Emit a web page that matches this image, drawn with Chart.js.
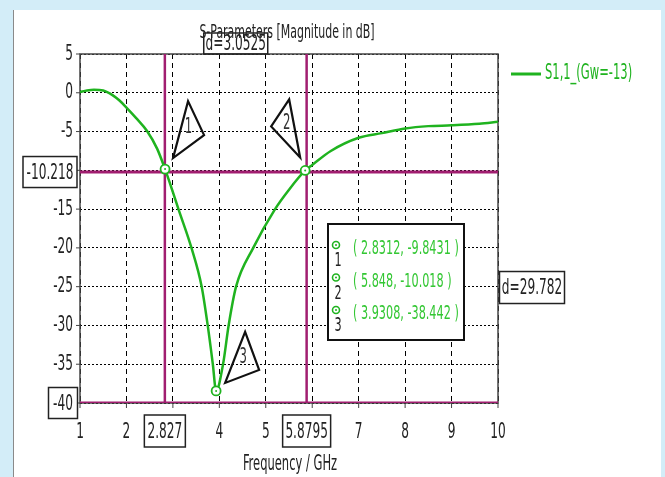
<!DOCTYPE html>
<html>
<head>
<meta charset="utf-8">
<script src="https://cdn.jsdelivr.net/npm/chart.js@4.4.1/dist/chart.umd.min.js"></script>
<style>
  body { margin: 0; width: 665px; height: 477px; overflow: hidden; background: #d3edf8; }
  #panel { position: absolute; left: 13px; top: 10px; width: 647px; height: 467px; background: #fff; border-left: 1px solid #8a8a8a; }
  #c { position: absolute; left: 0; top: 0; }
</style>
</head>
<body>
<div id="panel"></div>
<canvas id="c" width="665" height="477"></canvas>
<script>
// S11 curve (GHz, dB)
const freq = [1.0, 1.15, 1.3, 1.5, 1.7, 1.85, 2.0, 2.2, 2.44, 2.66, 2.8312, 3.0, 3.12, 3.4, 3.62, 3.75, 3.86, 3.9308,
              4.08, 4.2, 4.36, 4.73, 5.2, 5.5, 5.848, 6.0, 6.4, 7.0, 7.5, 8.0, 8.5, 9.0, 9.6, 10.0];
const s11  = [0.1, 0.3, 0.4, 0.3, -0.3, -1.0, -1.9, -3.2, -4.9, -7.2, -9.8431, -12.8, -15, -20, -25, -30, -35, -38.442,
              -35, -30, -25, -20, -15, -12.5, -10.018, -9.3, -7.5, -5.8, -5.2, -4.6, -4.3, -4.2, -4.0, -3.75];

// curve markers
const markerFreq = [2.8312, 5.848, 3.9308];
const markerDb   = [-9.8431, -10.018, -38.442];

// marker lines
const lineX = [2.827, 5.8795];
const lineY = [-10.218, -40];

const xTicks = [1, 2, 3, 4, 5, 6, 7, 8, 9, 10];
const yTicks = [5, 0, -5, -10, -15, -20, -25, -30, -35, -40];

const seriesName = 'S1,1_(Gw=-13)';
const GREEN = '#1fb31f';
const LIGHTGREEN = '#33c733';
const MAGENTA = '#a11e70';
const FONT = '"DejaVu Sans Condensed", sans-serif';

// the reference text is tall and narrow, so stretch it vertically
function txt(ctx, s, x, y, size, color, align) {
    ctx.save();
    ctx.translate(x, y);
    ctx.scale(1, 1.6);
    ctx.font = size + 'px ' + FONT;
    ctx.fillStyle = color;
    ctx.textAlign = align || 'center';
    ctx.textBaseline = 'middle';
    ctx.fillText(s, 0, 0);
    ctx.restore();
}

function boxTxt(ctx, s, cx, cy, w, h, fill) {
    if (fill) {
        ctx.fillStyle = '#fff';
        ctx.fillRect(cx - w / 2, cy - h / 2, w, h);
    }
    ctx.strokeStyle = '#222';
    ctx.lineWidth = 1.5;
    ctx.strokeRect(cx - w / 2, cy - h / 2, w, h);
    txt(ctx, s, cx, cy + 1, 13.5, '#222');
}

function fmt(v) { return String(+v.toFixed(4)); }

const extras = {
    id: 'extras',
    beforeDatasetsDraw(chart) {
        const ctx = chart.ctx, a = chart.chartArea;
        ctx.save();
        ctx.strokeStyle = '#444';
        ctx.lineWidth = 1.5;
        ctx.strokeRect(a.left, a.top, a.right - a.left, a.bottom - a.top);
        ctx.restore();
    },
    afterDraw(chart) {
        const ctx = chart.ctx, a = chart.chartArea;
        const xs = chart.scales.x, ys = chart.scales.y;

        // tick marks + labels
        ctx.strokeStyle = '#444';
        ctx.lineWidth = 1;
        xTicks.forEach(v => {
            const px = xs.getPixelForValue(v);
            ctx.beginPath(); ctx.moveTo(px, a.bottom); ctx.lineTo(px, a.bottom + 5); ctx.stroke();
            if (lineX.some(m => Math.abs(m - v) < 0.5)) return;
            txt(ctx, String(v), px, a.bottom + 29, 13.5, '#222');
        });
        yTicks.forEach(v => {
            const py = ys.getPixelForValue(v);
            ctx.beginPath(); ctx.moveTo(a.left - 4, py); ctx.lineTo(a.left, py); ctx.stroke();
            if (lineY.some(m => Math.abs(m - v) < 2)) return;
            txt(ctx, String(v), a.left - 7, py, 13.5, '#222', 'right');
        });

        // title + axis title
        txt(ctx, 'S-Parameters [Magnitude in dB]', 287, 33, 12.2, '#222');
        txt(ctx, 'Frequency / GHz', 290, 465, 12.8, '#222');

        // marker line labels
        const x1 = xs.getPixelForValue(lineX[0]), x2 = xs.getPixelForValue(lineX[1]);
        const y1 = ys.getPixelForValue(lineY[0]), y2 = ys.getPixelForValue(lineY[1]);
        boxTxt(ctx, fmt(lineX[0]), x1, 431, 41, 32, true);
        boxTxt(ctx, fmt(lineX[1]), x2, 431, 48, 32, true);
        boxTxt(ctx, fmt(lineY[0]), a.left - 30, y1, 54, 31, true);
        boxTxt(ctx, fmt(lineY[1]), a.left - 17, y2, 29, 31, true);
        boxTxt(ctx, 'd=' + fmt(lineX[1] - lineX[0]), (x1 + x2) / 2, 43.5, 64, 21, false);
        boxTxt(ctx, 'd=' + fmt(lineY[0] - lineY[1]), a.right + 34, (y1 + y2) / 2, 65, 32, true);

        // callout triangles
        const tri = [
            [[8, -11], [23, -68], [39, -34]],
            [[-5, -13], [-16, -71], [-34, -44]],
            [[9, -8], [29, -59], [43, -21]]
        ];
        ctx.strokeStyle = '#111';
        ctx.lineWidth = 2.2;
        ctx.lineJoin = 'miter';
        markerFreq.forEach((f, i) => {
            const mx = xs.getPixelForValue(f), my = ys.getPixelForValue(markerDb[i]);
            const p = tri[i];
            ctx.beginPath();
            ctx.moveTo(mx + p[0][0], my + p[0][1]);
            ctx.lineTo(mx + p[1][0], my + p[1][1]);
            ctx.lineTo(mx + p[2][0], my + p[2][1]);
            ctx.closePath();
            ctx.stroke();
            const cx = mx + (p[0][0] + p[1][0] + p[2][0]) / 3;
            const cy = my + (p[0][1] + p[1][1] + p[2][1]) / 3;
            txt(ctx, String(i + 1), cx, cy - 4, 13, '#333');
        });

        // marker readout box
        ctx.fillStyle = '#fff';
        ctx.fillRect(328, 224, 136, 116);
        ctx.strokeStyle = '#111';
        ctx.lineWidth = 2;
        ctx.strokeRect(328, 224, 136, 116);
        markerFreq.forEach((f, i) => {
            const ry = 249 + 32.5 * i;
            ctx.strokeStyle = GREEN;
            ctx.lineWidth = 1.6;
            ctx.beginPath(); ctx.arc(336, ry - 4, 3.5, 0, Math.PI * 2); ctx.stroke();
            ctx.fillStyle = GREEN;
            ctx.beginPath(); ctx.arc(336, ry - 4, 1, 0, Math.PI * 2); ctx.fill();
            txt(ctx, String(i + 1), 338, ry + 12, 12.5, '#222');
            txt(ctx, '( ' + fmt(f) + ', ' + fmt(markerDb[i]) + ' )', 353, ry, 12.5, LIGHTGREEN, 'left');
        });

        // legend
        ctx.strokeStyle = GREEN;
        ctx.lineWidth = 3;
        ctx.beginPath(); ctx.moveTo(511, 74); ctx.lineTo(541, 74); ctx.stroke();
        txt(ctx, seriesName, 545, 74, 12.8, GREEN, 'left');
    }
};

const ctx = document.getElementById('c').getContext('2d');
new Chart(ctx, {
    type: 'scatter',
    data: {
        datasets: [
            {
                label: seriesName,
                data: freq.map((f, i) => ({x: f, y: s11[i]})),
                showLine: true,
                borderColor: GREEN,
                borderWidth: 2.5,
                pointRadius: 0,
                cubicInterpolationMode: 'monotone',
                order: 1
            },
            {
                label: 'markers',
                data: markerFreq.map((f, i) => ({x: f, y: markerDb[i]})),
                pointRadius: 4.5,
                borderWidth: 1.8,
                borderColor: GREEN,
                backgroundColor: '#fff',
                order: 0
            },
            {
                label: 'marker dots',
                data: markerFreq.map((f, i) => ({x: f, y: markerDb[i]})),
                pointRadius: 1,
                borderWidth: 0,
                backgroundColor: GREEN,
                order: -1
            },
            ...lineX.map(v => ({
                label: 'vline',
                data: [{x: v, y: -40}, {x: v, y: 5}],
                showLine: true, pointRadius: 0,
                borderColor: MAGENTA, borderWidth: 2.5,
                order: 3
            })),
            ...lineY.map(v => ({
                label: 'hline',
                data: [{x: 1, y: v}, {x: 10, y: v}],
                showLine: true, pointRadius: 0,
                borderColor: MAGENTA, borderWidth: 3,
                order: 3
            }))
        ]
    },
    options: {
        responsive: false,
        animation: false,
        layout: { padding: { left: 80, right: 167, top: 54, bottom: 74 } },
        plugins: { legend: { display: false }, tooltip: { enabled: false } },
        scales: {
            x: {
                type: 'linear', min: 1, max: 10,
                ticks: { stepSize: 1, display: false },
                grid: { color: '#000', lineWidth: 1, drawTicks: false },
                border: { display: false, dash: [5, 4] },
                afterFit: s => { s.height = 0; }
            },
            y: {
                min: -40, max: 5,
                ticks: { stepSize: 5, display: false },
                grid: { color: '#000', lineWidth: 1, drawTicks: false },
                border: { display: false, dash: [2, 2] },
                afterFit: s => { s.width = 0; }
            }
        }
    },
    plugins: [extras]
});
</script>
</body>
</html>
